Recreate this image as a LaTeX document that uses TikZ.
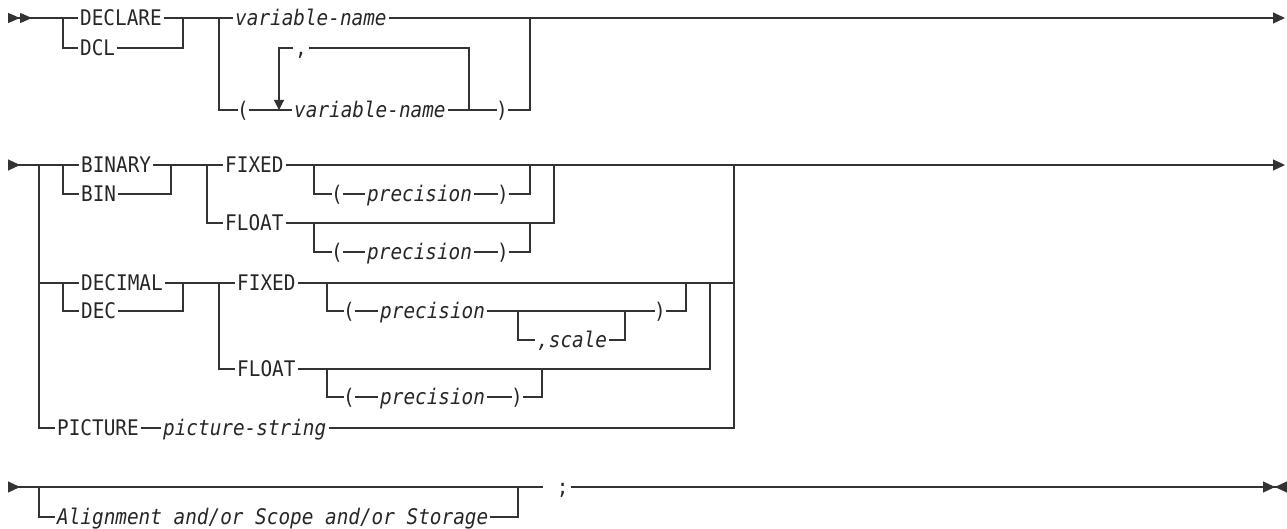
\documentclass[tikz,border=0pt]{standalone}
\usepackage{fontspec}
\setmonofont{DejaVu Sans Mono}[FakeStretch=0.9]
\usetikzlibrary{arrows.meta}
\tikzset{
	kw/.style={
		anchor=west,
		inner xsep=2pt,
		inner ysep=0pt,
		text height=15.6pt,
		text depth=0pt,
		text=black!85,
		font=\ttfamily\fontsize{21.5pt}{24pt}\selectfont
	},
	vn/.style={kw, font=\ttfamily\itshape\fontsize{21.5pt}{24pt}\selectfont},
	pn/.style={kw, inner xsep=-0.5pt},
	rr/.style={draw=black!80, line width=1.2pt},
	rrin/.style={rr, arrows={Triangle[reversed,length=12pt,width=11pt]-}},
	rrin2/.style={rr, arrows={Triangle[reversed,length=12pt,width=10pt]Triangle[reversed,length=12pt,width=10pt]-}},
	rrout/.style={rr, arrows={-Triangle[length=12pt,width=11pt]}},
	rrstop/.style={rr, arrows={-Triangle[length=12pt,width=11pt]Triangle[reversed,length=12pt,width=11pt]}},
	rrdown/.style={rr, arrows={-Triangle[length=10pt,width=10pt]}}
}

\begin{document}
\begin{tikzpicture}[x=1pt, y=-1pt]
		\useasboundingbox (0,0) rectangle (1287,529);
		% DECLARE / variable-name
		\coordinate (s1) at (8,18);
		\coordinate (b1) at (63,18);
		\coordinate (j1) at (183,18);
		\coordinate (b2) at (219,18);
		\coordinate (j2) at (530,18);
		\coordinate (e1) at (1285,18);
		\coordinate (lpL) at (279,110);
		\coordinate (lpR) at (469,110);
		\node[kw] (declare) at (78,18) {DECLARE};
		\node[kw] (dcl) at (78,48) {DCL};
		\node[vn] (varA) at (233,18) {variable-name};
		\node[pn] (lpar) at (237.5,110) {(};
		\node[vn] (varB) at (292,110) {variable-name};
		\node[pn] (rpar) at (496.5,110) {)};
		\node[kw] (comma) at (293,48) {,};
		\draw[rrin2] (s1) -- (declare);
		\draw[rr] (b1) |- (dcl);
		\draw[rr] (dcl) -| (j1);
		\draw[rr] (declare) -- (varA);
		\draw[rrout] (varA) -- (e1);
		\draw[rr] (b2) |- (lpar);
		\draw[rr] (lpar) -- (varB);
		\draw[rr] (varB) -- (rpar);
		\draw[rr] (rpar) -| (j2);
		\draw[rr] (lpR) |- (comma);
		\draw[rrdown] (comma) -| (lpL);

		% BINARY group
		\coordinate (s2) at (8,165);
		\coordinate (B0) at (39,165);
		\coordinate (b3) at (63,165);
		\coordinate (j3) at (171,165);
		\coordinate (b4) at (207,165);
		\coordinate (b5) at (314,165);
		\coordinate (cA) at (530,165);
		\coordinate (b6) at (314,223);
		\coordinate (cB) at (530,223);
		\coordinate (jA) at (554,165);
		\coordinate (J0) at (734,165);
		\coordinate (e2) at (1285,165);
		\node[kw] (binary) at (79,165) {BINARY};
		\node[kw] (bin) at (79,194) {BIN};
		\node[kw] (fixedA) at (223,165) {FIXED};
		\node[kw] (floatA) at (223,223) {FLOAT};
		\node[pn] (lpA) at (331.5,194) {(};
		\node[vn] (precA) at (365,194) {precision};
		\node[pn] (rpA) at (497.5,194) {)};
		\node[pn] (lpB) at (331.5,252) {(};
		\node[vn] (precB) at (365,252) {precision};
		\node[pn] (rpB) at (497.5,252) {)};
		\draw[rrin] (s2) -- (binary);
		\draw[rr] (b3) |- (bin);
		\draw[rr] (bin) -| (j3);
		\draw[rr] (binary) -- (fixedA);
		\draw[rr] (b4) |- (floatA);
		\draw[rrout] (fixedA) -- (e2);
		\draw[rr] (b5) |- (lpA);
		\draw[rr] (lpA) -- (precA);
		\draw[rr] (precA) -- (rpA);
		\draw[rr] (rpA) -| (cA);
		\draw[rr] (floatA) -| (jA);
		\draw[rr] (b6) |- (lpB);
		\draw[rr] (lpB) -- (precB);
		\draw[rr] (precB) -- (rpB);
		\draw[rr] (rpB) -| (cB);

		% DECIMAL group and PICTURE
		\coordinate (B0d) at (39,283);
		\coordinate (b7) at (63,283);
		\coordinate (j5) at (183,283);
		\coordinate (b8) at (219,283);
		\coordinate (b9) at (327,283);
		\coordinate (b10) at (518,311);
		\coordinate (j7) at (625,311);
		\coordinate (cC) at (686,283);
		\coordinate (jB) at (710,283);
		\coordinate (b11) at (327,369);
		\coordinate (cD) at (542,369);
		\coordinate (J0d) at (734,283);
		\node[kw] (decimal) at (79,283) {DECIMAL};
		\node[kw] (dec) at (79,311) {DEC};
		\node[kw] (fixedB) at (235,283) {FIXED};
		\node[kw] (floatB) at (235,369) {FLOAT};
		\node[pn] (lpC) at (343.5,311) {(};
		\node[vn] (precC) at (378,311) {precision};
		\node[vn] (scale) at (535,340) {,scale};
		\node[pn] (rpC) at (654.5,311) {)};
		\node[pn] (lpD) at (343.5,397) {(};
		\node[vn] (precD) at (378,397) {precision};
		\node[pn] (rpD) at (511.5,397) {)};
		\node[kw] (picture) at (55,428) {PICTURE};
		\node[vn] (pstring) at (161,428) {picture-string};
		\draw[rr] (B0) |- (picture);
		\draw[rr] (B0d) -- (decimal);
		\draw[rr] (b7) |- (dec);
		\draw[rr] (dec) -| (j5);
		\draw[rr] (decimal) -- (fixedB);
		\draw[rr] (b8) |- (floatB);
		\draw[rr] (fixedB) -- (J0d);
		\draw[rr] (b9) |- (lpC);
		\draw[rr] (lpC) -- (precC);
		\draw[rr] (precC) -- (rpC);
		\draw[rr] (b10) |- (scale);
		\draw[rr] (scale) -| (j7);
		\draw[rr] (rpC) -| (cC);
		\draw[rr] (floatB) -| (jB);
		\draw[rr] (b11) |- (lpD);
		\draw[rr] (lpD) -- (precD);
		\draw[rr] (precD) -- (rpD);
		\draw[rr] (rpD) -| (cD);
		\draw[rr] (picture) -- (pstring);
		\draw[rr] (pstring) -| (J0);

		% Alignment / end
		\coordinate (s3) at (8,487);
		\coordinate (b12) at (39,487);
		\coordinate (cE) at (518,487);
		\coordinate (e3) at (1287,487);
		\node[vn] (align) at (55,517) {Alignment and/or Scope and/or Storage};
		\node[kw] (semi) at (543,487) {\ ;};
		\draw[rrin] (s3) -- (semi);
		\draw[rr] (b12) |- (align);
		\draw[rr] (align) -| (cE);
		\draw[rrstop] (semi) -- (e3);
	\end{tikzpicture}
\end{document}
